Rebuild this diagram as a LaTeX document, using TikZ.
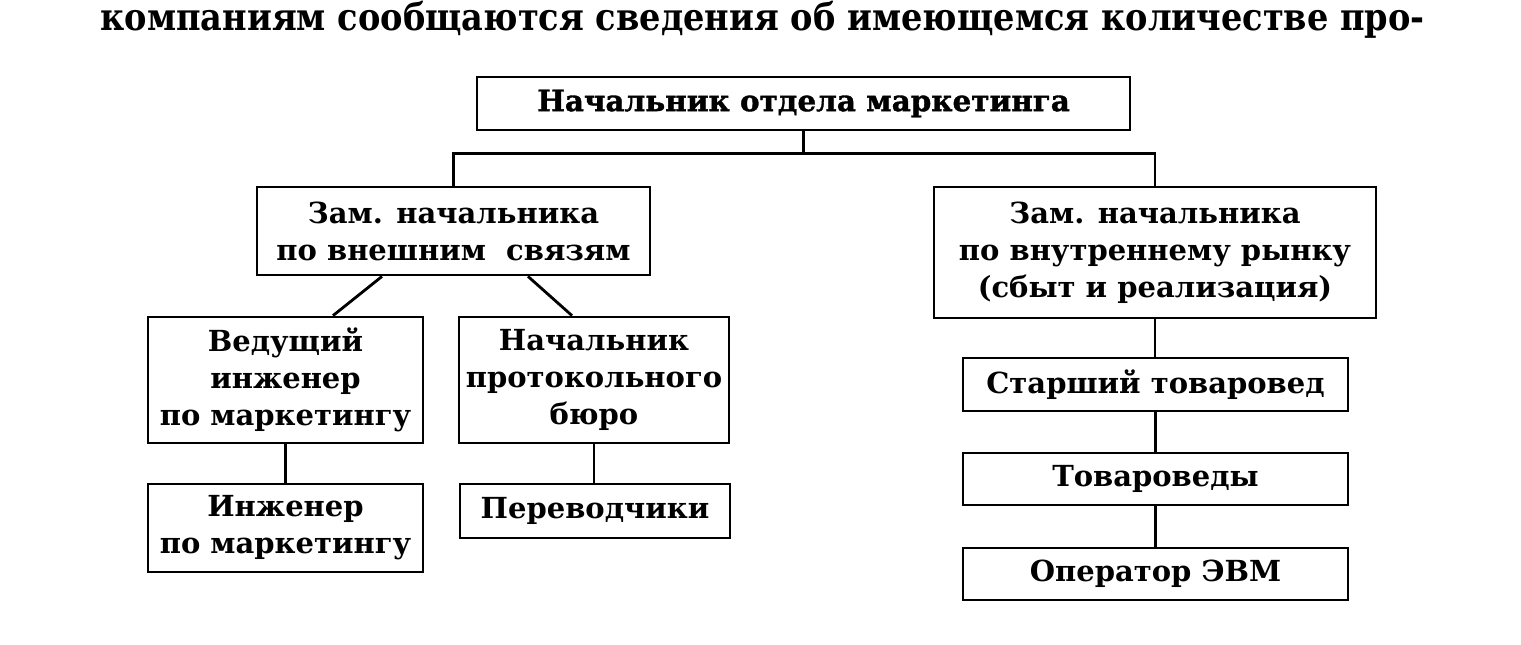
\documentclass[tikz,border=0pt]{standalone}
\usepackage{graphicx}
\usepackage{fontspec}
\setmainfont{DejaVu Serif}
\newfontfamily\titlefont[FakeBold=1.2]{DejaVu Serif Bold}
\usetikzlibrary{positioning}
\tikzset{
  box/.style={draw, line width=1.4pt, align=center, inner sep=0pt,
    font=\fontsize{14.5}{18.5}\selectfont\bfseries},
  conn/.style={line width=1.4pt},
}
\begin{document}
\begin{tikzpicture}[x=0.5pt,y=-0.5pt]
\useasboundingbox (0,0) rectangle (1521,644);
\node[anchor=base west, inner sep=0pt, font=\fontsize{21}{24}\selectfont\bfseries] (txt) at (100,30)
  {\scalebox{0.8}[0.9]{компаниям сообщаются сведения об имеющемся количестве про-}};
\node[box, minimum width=326.5pt, minimum height=26.5pt, font=\fontsize{14.7}{18.5}\titlefont] (top) at (803.5,103.5) {Начальник отдела маркетинга};
\node[box, minimum width=196.5pt, minimum height=44pt] (zl) at (453.5,231) {Зам. начальника\\по внешним\ \ связям};
\node[box, minimum width=221pt, minimum height=65.5pt] (zr) at (1155,252.5) {Зам. начальника\\по внутреннему рынку\\(сбыт и реализация)};
\node[box, minimum width=137.5pt, minimum height=63pt] (ved) at (285.5,380) {Ведущий\\инженер\\по маркетингу};
\node[box, minimum width=135pt, minimum height=63pt] (np) at (594,380) {Начальник\\протокольного\\бюро};
\node[box, minimum width=137.5pt, minimum height=44pt] (ing) at (285.5,528) {Инженер\\по маркетингу};
\node[box, minimum width=135pt, minimum height=27pt] (per) at (595,511) {Переводчики};
\node[box, minimum width=192.5pt, minimum height=26.5pt] (st) at (1155.5,384.5) {Старший товаровед};
\node[box, minimum width=192.5pt, minimum height=26pt] (tov) at (1155.5,479) {Товароведы};
\node[box, minimum width=192.5pt, minimum height=26pt] (op) at (1155.5,574) {Оператор ЭВМ};
\draw[conn] (top.south) -- ++(0,22) coordinate (j);
\draw[conn] (zl.north) |- (j) -| (zr.north);
\draw[conn] ([xshift=-35.75pt]zl.south) -- ([xshift=23.75pt]ved.north);
\draw[conn] ([xshift=37.25pt]zl.south) -- ([xshift=-11pt]np.north);
\draw[conn] (ved.south) -- (ing.north);
\draw[conn] (np.south) -- (np.south |- per.north);
\draw[conn] (zr.south) -- (zr.south |- st.north);
\draw[conn] (st.south) -- (tov.north);
\draw[conn] (tov.south) -- (op.north);
\end{tikzpicture}
\end{document}
